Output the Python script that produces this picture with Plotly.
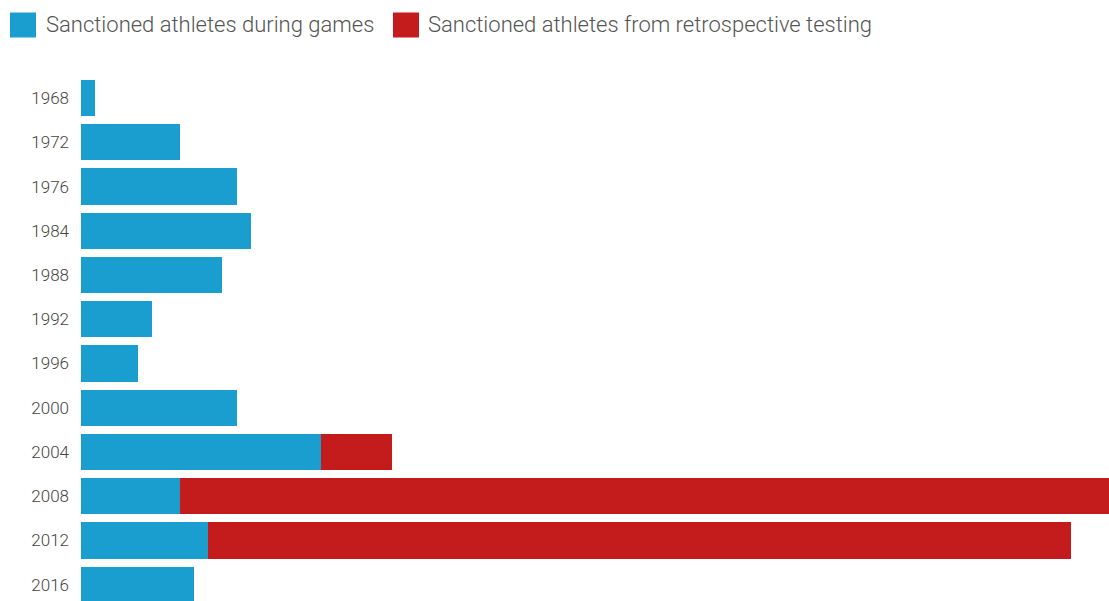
import plotly.graph_objects as go

years = ["1968", "1972", "1976", "1984", "1988", "1992", "1996", "2000", "2004", "2008", "2012", "2016"]
during_games = [1, 7, 11, 12, 10, 5, 4, 11, 17, 7, 9, 8]
retrospective = [0, 0, 0, 0, 0, 0, 0, 0, 5, 68, 61, 0]

series_names = ["Sanctioned athletes during games", "Sanctioned athletes from retrospective testing"]
colors = ["#1a9ecf", "#c41c1c"]

W, H = 1109, 601
ML, MR, MT, MB = 81, 0, 76, 0
PW, PH = W - ML - MR, H - MT - MB


def px_x(p):
    return (p - ML) / PW


def px_y(p):
    return (H - MB - p) / PH


fig = go.Figure()
for name, vals, col in zip(series_names, [during_games, retrospective], colors):
    fig.add_trace(go.Bar(
        y=years, x=vals, orientation="h", name=name,
        marker=dict(color=col, line=dict(width=0)),
        showlegend=False, hoverinfo="x+y",
    ))

# custom legend (large squares)
legend_items = [(10, 44, series_names[0], colors[0]), (393, 426, series_names[1], colors[1])]
shapes = []
annotations = []
for sq_x, tx, name, col in legend_items:
    shapes.append(dict(type="rect", xref="paper", yref="paper",
                       x0=px_x(sq_x), x1=px_x(sq_x + 26), y0=px_y(12.5), y1=px_y(37.5),
                       fillcolor=col, line=dict(width=0)))
    annotations.append(dict(xref="paper", yref="paper", x=px_x(tx), y=px_y(25),
                            xanchor="left", yanchor="middle", showarrow=False,
                            text=name, font=dict(family="Roboto", size=22, color="#555555", weight=300)))

fig.update_layout(
    width=W, height=H,
    margin=dict(l=ML, r=MR, t=MT, b=MB, pad=0),
    barmode="stack", bargap=0.18,
    paper_bgcolor="white", plot_bgcolor="white",
    font=dict(family="Roboto", color="#444444"),
    shapes=shapes, annotations=annotations,
    xaxis=dict(visible=False, range=[0, 72.67], fixedrange=True),
    yaxis=dict(type="category", range=[11.37, -0.5], showgrid=False, zeroline=False,
               showline=False, ticks="", ticklabelstandoff=11,
               tickfont=dict(family="Roboto", size=17, color="#444444", weight=300)),
)

fig.write_html("out.html", config={"displayModeBar": False},
               post_script="document.body.style.margin='0';document.body.style.overflow='hidden';")
